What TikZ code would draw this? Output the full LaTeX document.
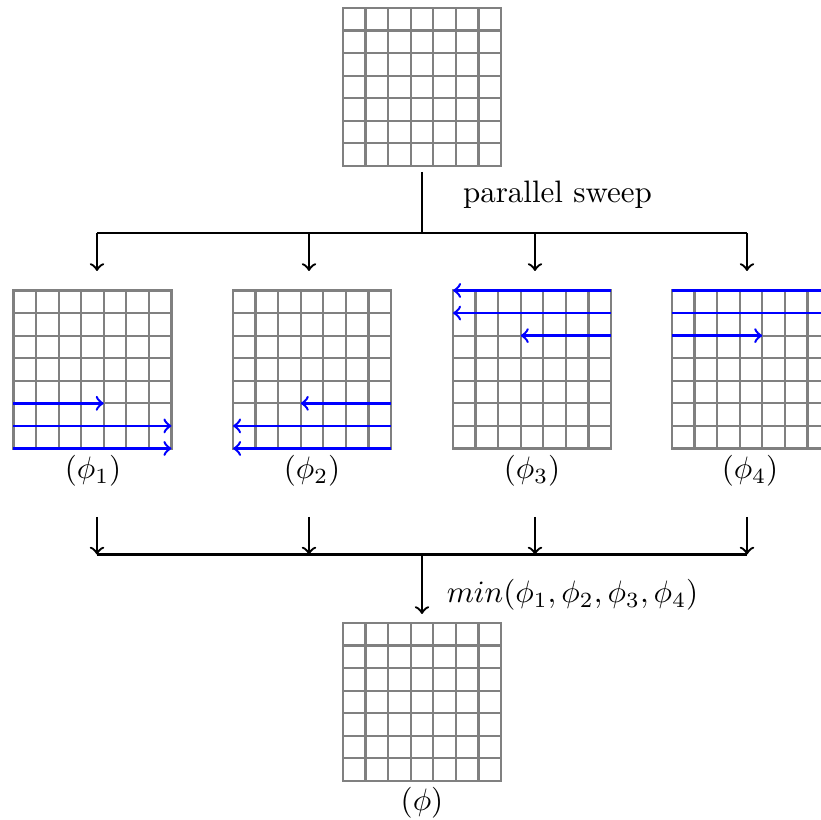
\documentclass[tikz,border=0pt]{standalone}
\usetikzlibrary{calc}
\def\u{0.3226}
\def\cell{22.571}
\tikzset{
  gbox/.style={draw=gray, line width=0.7pt, minimum size=158*\u pt, inner sep=0pt, outer sep=0pt},
  gline/.style={draw=gray, line width=0.7pt},
  conn/.style={draw=black, line width=0.75pt},
  arr/.style={conn, ->},
  sweep/.style={draw=blue, line width=0.8pt, ->},
  lbl/.style={inner sep=0pt, font=\fontsize{10}{12}\selectfont}
}
\newcommand\mygrid[3]{%
  \node[gbox] (#1) at (#2,#3) {};
  \foreach \k in {1,...,6} {
    \draw[gline] ($(#1.north west)!\k/7!(#1.north east)$) -- ($(#1.south west)!\k/7!(#1.south east)$);
    \draw[gline] ($(#1.north west)!\k/7!(#1.south west)$) -- ($(#1.north east)!\k/7!(#1.south east)$);
  }%
}
\begin{document}
\begin{tikzpicture}[x=\u pt, y=-\u pt]
\clip (0,0) rectangle (821,820);
\useasboundingbox (0,0) rectangle (821,820);
% grids
\mygrid{g0}{422}{87}
\mygrid{g1}{92.5}{369.5}
\mygrid{g2}{312}{369.5}
\mygrid{g3}{532}{369.5}
\mygrid{g4}{751}{369.5}
\mygrid{g5}{422}{702}
% top splitter
\coordinate (s0) at (422,172);
\coordinate (split) at (422,233);
\coordinate (b1) at (97,233);
\coordinate (b2) at (309,233);
\coordinate (b3) at (535,233);
\coordinate (b4) at (747,233);
\coordinate (t1) at (97,271);
\coordinate (t2) at (309,271);
\coordinate (t3) at (535,271);
\coordinate (t4) at (747,271);
\draw[conn] (s0) -- (split);
\draw[conn] (b1) -- (b4);
\draw[arr] (b1) -- (t1);
\draw[arr] (b2) -- (t2);
\draw[arr] (b3) -- (t3);
\draw[arr] (b4) -- (t4);
\node[lbl] (ps) at (557.5,195) {parallel sweep};
% labels
\node[lbl] (l1) at (93,471) {$(\phi_1)$};
\node[lbl] (l2) at (312,471) {$(\phi_2)$};
\node[lbl] (l3) at (532,471) {$(\phi_3)$};
\node[lbl] (l4) at (750,471) {$(\phi_4)$};
\node[lbl] (l5) at (422,803) {$(\phi)$};
% bottom merger
\coordinate (u1) at (97,517);
\coordinate (u2) at (309,517);
\coordinate (u3) at (535,517);
\coordinate (u4) at (747,517);
\coordinate (m1) at (97,554.5);
\coordinate (m2) at (309,554.5);
\coordinate (m3) at (535,554.5);
\coordinate (m4) at (747,554.5);
\coordinate (mc) at (422,554.5);
\coordinate (mt) at (422,614);
\draw[arr] (u1) -- (m1);
\draw[arr] (u2) -- (m2);
\draw[arr] (u3) -- (m3);
\draw[arr] (u4) -- (m4);
\draw[conn] (m1) -- (m4);
\draw[arr] (mc) -- (mt);
\node[lbl] (mn) at (572.5,595) {$min(\phi_1,\phi_2,\phi_3,\phi_4)$};
% sweeps in g1 (right)
\draw[sweep] ($(g1.south west)+(0,-2*\cell)$) -- ++(4*\cell,0);
\draw[sweep] ($(g1.south west)+(0,-1*\cell)$) -- ($(g1.south east)+(0,-1*\cell)$);
\draw[sweep] (g1.south west) -- (g1.south east);
% sweeps in g2 (left)
\draw[sweep] ($(g2.south east)+(0,-2*\cell)$) -- ++(-4*\cell,0);
\draw[sweep] ($(g2.south east)+(0,-1*\cell)$) -- ($(g2.south west)+(0,-1*\cell)$);
\draw[sweep] (g2.south east) -- (g2.south west);
% sweeps in g3 (left, top)
\draw[sweep] (g3.north east) -- (g3.north west);
\draw[sweep] ($(g3.north east)+(0,\cell)$) -- ($(g3.north west)+(0,\cell)$);
\draw[sweep] ($(g3.north east)+(0,2*\cell)$) -- ++(-4*\cell,0);
% sweeps in g4 (right, top)
\draw[sweep] (g4.north west) -- (g4.north east);
\draw[sweep] ($(g4.north west)+(0,\cell)$) -- ($(g4.north east)+(0,\cell)$);
\draw[sweep] ($(g4.north west)+(0,2*\cell)$) -- ++(4*\cell,0);
\end{tikzpicture}
\end{document}
